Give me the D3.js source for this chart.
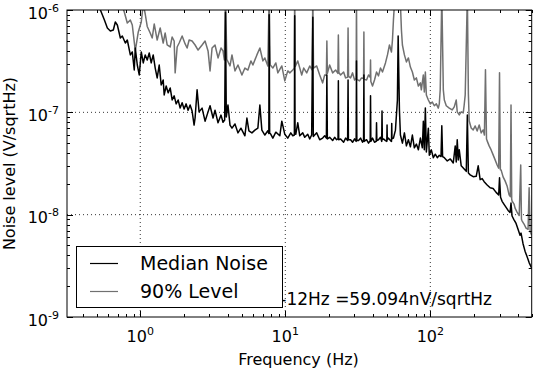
<!DOCTYPE html>
<html><head><meta charset="utf-8">
<script src="https://cdn.jsdelivr.net/npm/d3@7"></script>
<style>body{margin:0;background:#fff}svg{display:block;font-family:"DejaVu Sans",sans-serif}</style>
</head><body><svg id="c" width="533" height="369"></svg>
<script>
// Median noise (frequency in Hz, level in nV/sqrtHz)
const medianFreq = [0.498,0.531,0.566,0.593,0.622,0.652,0.673,0.695,0.729,0.752,0.789,0.814,0.854,0.881,0.909,0.924,0.954,0.984,1.016,1.049,1.082,1.117,1.153,1.190,1.228,1.268,1.308,1.351,1.394,1.439,1.462,1.509,1.557,1.608,1.659,1.713,1.768,1.825,1.884,1.944,2.006,2.071,2.137,2.206,2.277,2.350,2.388,2.465,2.544,2.668,2.798,2.934,3.028,3.176,3.277,3.437,3.604,3.720,3.82,3.87,3.92,4.025,4.156,4.289,4.498,4.716,4.945,5.267,5.437,5.612,5.886,6.171,6.471,6.679,6.894,7.228,7.580,7.70,7.74,7.80,7.948,8.206,8.604,9.167,9.462,9.922,10.40,10.91,11.26,11.55,11.61,11.68,11.81,12.19,12.58,13.19,13.62,14.28,14.74,15.2,15.48,15.6,16.46,17.27,18.10,18.69,19.2,19.35,19.5,20.22,21.21,21.89,22.59,23.1,23.22,23.35,24.07,25.24,26.05,26.9,27.09,27.25,28.19,29.10,30.04,30.8,30.96,31.15,32.0,33.03,34.09,34.65,34.83,35.0,36.32,37.49,38.5,38.7,38.9,39.94,41.22,42.35,42.57,42.8,43.92,45.34,46.2,46.44,46.7,47.53,49.06,50.1,50.31,50.5,51.45,53.10,54.0,54.18,54.4,55.68,57.47,59.3,60.0,61.24,62.2,64.2,66.27,68.4,70.6,72.87,75.2,77.6,80.13,82.7,85.4,88.1,89.5,90.9,92.4,93.9,96.9,98.4,101.6,104.9,108.2,111.7,115.3,118.5,120,121.5,124.9,130.9,137.3,143.9,148.5,150.9,153.3,155.8,158.3,163.3,171.2,177,180,183,188.3,197.5,207.2,213.8,220.6,227.8,235,246.5,258.5,271,284.2,296,300,305,312.5,327.7,343.7,354.6,360,366.1,377.8,390.1,402.5,415.5,422.2,435.8,449.8,464.2,480,500];
const medianNv = [1170,1000,798,667,624,638,763,714,533,557,476,509,364,389,259,425,290,232,389,304,364,325,380,304,364,271,217,290,185,207,148,181,155,173,132,145,121,132,110,124,108,121,105,118,103,75,88,166,101,110,82,101,116,88,105,79,94,80,84,950,90,118,75,70,77,63,70,59,88,66,63,67,70,118,67,60,66,62,900,63,61,56,64,59,82,61,56,63,59,60,880,62,61,79,59,63,57,61,55,60,850,58,63,54,56,59,56,232,55,57,53,57,54,55,203,54,55,51,56,53,207,54,54,51,55,52,318,53,53,56,51,54,232,52,54,50,53,145,52,56,51,52,79,53,54,57,52,103,54,55,53,52,75,54,56,53,52,78,55,56,67,132,557,105,60,50,63,47,54,46,60,45,49,43,56,45,82,43,110,41,70,38,43,36,39,36,38,37,74,37,36,33.5,35,32,47,32.7,54,34.3,43,30,28,26.5,94,25.5,24.5,23.5,23.7,30,22,22.5,21,19.5,18.3,18,16.5,15.6,22.9,14.8,13.5,12.2,11,10.5,13,9.7,8.9,8.2,7.2,6.3,6.6,5.2,4.4,3.9,3.4,3.0];
// 90% level (frequency in Hz, level in nV/sqrtHz)
const level90Freq = [0.729,0.776,0.814,0.854,0.881,0.924,0.969,1.016,1.049,1.082,1.117,1.171,1.209,1.248,1.308,1.372,1.439,1.485,1.533,1.608,1.659,1.713,1.740,1.796,1.854,1.944,2.039,2.104,2.172,2.277,2.388,2.504,2.668,2.798,2.934,3.028,3.126,3.277,3.437,3.604,3.720,3.80,3.87,3.95,4.156,4.289,4.498,4.716,5.023,5.267,5.525,5.792,5.979,6.370,6.679,7.004,7.228,7.58,7.74,7.88,8.206,8.604,8.882,9.462,9.922,10.40,10.74,11.26,11.52,11.61,11.72,12.19,12.98,13.40,14.05,14.74,15.3,15.48,15.65,16.46,17.27,18.10,18.69,19.2,19.35,19.5,20.22,21.21,22.24,23.05,23.22,23.4,24.07,25.24,26.05,26.9,27.09,27.3,28.19,29.10,30.04,30.8,30.96,31.15,32.5,33.57,34.65,34.83,35.0,36.32,37.49,38.5,38.7,38.9,39.94,41.22,42.57,43.92,45.34,46.78,49.06,50.64,52.27,53.95,54.81,55.68,56.57,60,62.2,63.20,64.2,66.27,68.4,70.6,72.87,75.2,77.6,80.13,82.7,85.4,86.7,89.5,90.9,92.4,93.9,96.9,100,103.2,106.5,110,113.5,115.3,117,120,122.9,124.9,128.8,135.1,141.6,146.2,150.9,153.3,158.3,163.3,168.6,171.2,174.0,180,183,185.4,191.3,197.5,203.9,210.4,217.2,224.2,231.4,236,240,244,246.5,254.4,262.6,271.0,279.8,288.8,296,300,304,307.6,317.5,327.7,338.2,349.2,356,360,364,366.1,377.8,383.9,396.3,410,420,425,428.9,442.7,457,472,480,488,500];
const level90Nv = [1250,955,747,798,714,398,610,763,1150,914,690,596,533,730,509,667,476,596,455,435,545,498,243,435,476,557,466,425,509,498,455,406,455,498,398,254,425,455,340,425,398,325,1400,330,284,364,254,290,232,271,259,318,290,364,425,318,340,284,1400,290,271,304,243,284,203,254,243,259,270,1400,280,318,232,271,243,284,260,1400,270,284,232,194,232,230,498,240,290,243,259,240,570,245,232,248,217,220,667,225,217,243,207,215,1400,210,203,217,215,610,210,207,232,220,325,200,181,207,248,227,271,248,304,364,455,389,509,798,1150,1500,1150,638,455,364,311,340,277,248,207,217,181,194,166,232,158,248,148,132,121,126,116,121,110,121,166,1400,166,132,116,110,105.5,113,132,101,94.4,101,98.6,118,148,1400,150,82.4,70.4,67.3,73.6,65.8,75.3,62.9,67.3,60,261,55,52.6,47.0,42.9,38.4,34.3,30.6,28.5,243,27.5,27.4,23.4,21.4,19.1,15.6,15,118,14.2,13.6,12.7,11.6,10.6,9.8,30.6,9.0,8.7,8.1,7.4,7.2,18.3,6.8,6.3];

const seriesNames = ["Median Noise", "90% Level"];
const seriesColors = ["#000000", "#707070"];
const xTickValues = [1, 10, 100];
const xTickExponents = ["0", "1", "2"];
const yTickValues = [1e-9, 1e-8, 1e-7, 1e-6];
const yTickExponents = ["-9", "-8", "-7", "-6"];
const xLabel = "Frequency (Hz)";
const yLabel = "Noise level (V/sqrtHz)";
const annotationText = "3-12Hz =59.094nV/sqrtHz";

const L = 67, R = 531.7, T = 10, B = 317;
const svg = d3.select("#c");
const x = d3.scaleLog().domain([0.3125, 500]).range([L, R]);
const y = d3.scaleLog().domain([1e-9, 1e-6]).range([B, T]);

const median = medianFreq.map((f, i) => ({f, v: medianNv[i] * 1e-9}));
const level90 = level90Freq.map((f, i) => ({f, v: level90Nv[i] * 1e-9}));

svg.append("defs").append("clipPath").attr("id", "clip")
  .append("rect").attr("x", L).attr("y", T).attr("width", R - L).attr("height", B - T);

// grid
const grid = svg.append("g").attr("stroke", "#000").attr("stroke-width", 0.8).attr("stroke-dasharray", "1,3");
grid.selectAll("line.gx").data(xTickValues).join("line")
  .attr("x1", d => x(d)).attr("x2", d => x(d)).attr("y1", T).attr("y2", B);
grid.selectAll("line.gy").data(yTickValues.slice(1, -1)).join("line")
  .attr("y1", d => y(d)).attr("y2", d => y(d)).attr("x1", L).attr("x2", R);

// lines
const line = d3.line().x(d => x(d.f)).y(d => y(d.v));
const plot = svg.append("g").attr("clip-path", "url(#clip)");
plot.append("path").datum(level90).attr("d", line).attr("fill", "none")
  .attr("stroke", seriesColors[1]).attr("stroke-width", 1.5).attr("stroke-linejoin", "round");
plot.append("path").datum(median).attr("d", line).attr("fill", "none")
  .attr("stroke", seriesColors[0]).attr("stroke-width", 1.5).attr("stroke-linejoin", "round");

// ticks (inward on all four sides)
const ax = svg.append("g").attr("stroke", "#000").attr("stroke-width", 1);
const xt = x.ticks();
const yt = y.ticks();
const isMajorX = d => xTickValues.some(m => Math.abs(m - d) / m < 1e-6);
const isMajorY = d => yTickValues.some(m => Math.abs(m - d) / m < 1e-6);
xt.forEach(d => {
  const len = isMajorX(d) ? 6 : 3, px = Math.round(x(d)) + 0.5;
  ax.append("line").attr("x1", px).attr("x2", px).attr("y1", B).attr("y2", B - len);
  ax.append("line").attr("x1", px).attr("x2", px).attr("y1", T).attr("y2", T + len);
});
yt.forEach(d => {
  const len = isMajorY(d) ? 6 : 3, py = Math.round(y(d)) + 0.5;
  ax.append("line").attr("y1", py).attr("y2", py).attr("x1", L).attr("x2", L + len);
  ax.append("line").attr("y1", py).attr("y2", py).attr("x1", R).attr("x2", R - len);
});
svg.append("rect").attr("x", L).attr("y", T).attr("width", R - L).attr("height", B - T)
  .attr("fill", "none").attr("stroke", "#000").attr("stroke-width", 1);

// tick labels
xTickValues.forEach((d, i) => {
  const t = svg.append("text").attr("x", x(d)).attr("y", 341.5).attr("text-anchor", "middle")
    .attr("font-size", 16).attr("fill", "#000");
  t.append("tspan").text("10");
  t.append("tspan").attr("dy", -7).attr("font-size", 11).text(xTickExponents[i]);
});
yTickValues.forEach((d, i) => {
  const t = svg.append("text").attr("x", 59).attr("y", y(d) + 8.5).attr("text-anchor", "end")
    .attr("font-size", 16).attr("fill", "#000");
  t.append("tspan").text("10");
  t.append("tspan").attr("dy", -7).attr("font-size", 11).text(yTickExponents[i]);
});

// axis labels
svg.append("text").attr("x", 298.5).attr("y", 365).attr("text-anchor", "middle")
  .attr("font-size", 16).text(xLabel);
svg.append("text").attr("transform", "translate(14.5,163.5) rotate(-90)").attr("text-anchor", "middle")
  .attr("font-size", 16).text(yLabel);

// annotation (partly hidden behind the legend, as in the original)
svg.append("text").attr("x", 492).attr("y", 305).attr("text-anchor", "end")
  .attr("font-size", 17).text(annotationText);

// legend
const lg = svg.append("g");
lg.append("rect").attr("x", 76.5).attr("y", 246.5).attr("width", 206).attr("height", 61)
  .attr("fill", "#fff").attr("stroke", "#000").attr("stroke-width", 1);
const legY = [263.5, 291.5];
seriesNames.forEach((n, i) => {
  lg.append("line").attr("x1", 90).attr("x2", 118).attr("y1", legY[i]).attr("y2", legY[i])
    .attr("stroke", seriesColors[i]).attr("stroke-width", 1.2);
  lg.append("text").attr("x", 140).attr("y", legY[i] + 6.5).attr("font-size", 19).text(n);
});
</script></body></html>
